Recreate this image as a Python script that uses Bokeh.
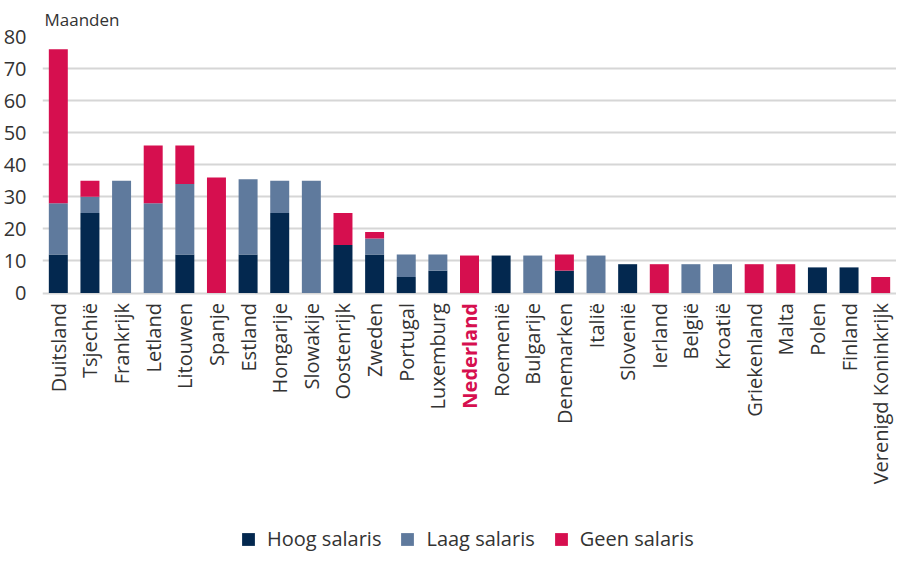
import math
from bokeh.plotting import figure
from bokeh.models import ColumnDataSource, Legend, LegendItem, FixedTicker
from bokeh.core.properties import value
from bokeh.embed import file_html
from bokeh.resources import INLINE

countries = ["Duitsland", "Tsjechië", "Frankrijk", "Letland", "Litouwen", "Spanje", "Estland",
             "Hongarije", "Slowakije", "Oostenrijk", "Zweden", "Portugal", "Luxemburg", "Nederland",
             "Roemenië", "Bulgarije", "Denemarken", "Italië", "Slovenië", "Ierland", "België",
             "Kroatië", "Griekenland", "Malta", "Polen", "Finland", "Verenigd Koninkrijk"]
hoog = [12, 25, 0, 0, 12, 0, 12, 25, 0, 15, 12, 5, 7, 0, 11.7, 0, 7, 0, 9, 0, 0, 0, 0, 0, 8, 8, 0]
laag = [16, 5, 35, 28, 22, 0, 23.5, 10, 35, 0, 5, 7, 5, 0, 0, 11.7, 0, 11.7, 0, 0, 9, 9, 0, 0, 0, 0, 0]
geen = [48, 5, 0, 18, 12, 36, 0, 0, 0, 10, 2, 0, 0, 11.7, 0, 0, 5, 0, 0, 9, 0, 0, 9, 9, 0, 0, 5]
series = ["hoog", "laag", "geen"]
series_labels = ["Hoog salaris", "Laag salaris", "Geen salaris"]
colors = ["#03284F", "#5F7A9D", "#D60F4F"]
y_ticks = [0, 10, 20, 30, 40, 50, 60, 70, 80]
highlight = "Nederland"

FONT = "Open Sans"
TEXT = "#333333"

source = ColumnDataSource(dict(country=countries, hoog=hoog, laag=laag, geen=geen))

# frame extends below zero so the category labels and legend sit inside it
p = figure(x_range=countries, y_range=(-80.9, 80), width=896, height=552,
           output_backend="svg", toolbar_location=None, x_axis_location=None,
           min_border_left=35, min_border_right=0, min_border_top=0, min_border_bottom=0)
p.x_range.range_padding = 0

renderers = p.vbar_stack(series, x="country", width=0.6, color=colors, source=source,
                         line_color=None)

p.title.text = "Maanden"
p.title.text_font = FONT
p.title.text_font_size = "17px"
p.title.text_font_style = "normal"
p.title.text_color = TEXT
p.title.offset = 2
p.title.standoff = 11

p.outline_line_color = None
p.xgrid.grid_line_color = None
p.ygrid.grid_line_color = "#D6D6D6"
p.ygrid.grid_line_width = 2
p.yaxis.ticker = FixedTicker(ticks=y_ticks)
p.yaxis.axis_line_color = None
p.yaxis.major_tick_line_color = None
p.yaxis.minor_tick_line_color = None
p.yaxis.major_label_text_font = FONT
p.yaxis.major_label_text_font_size = "20px"
p.yaxis.major_label_text_color = TEXT
p.yaxis.major_label_standoff = 10

# category labels
normal = [c for c in countries if c != highlight]
p.text(x=normal, y=[0] * len(normal), text=normal, angle=math.pi / 2,
       text_align="right", text_baseline="middle", y_offset=10,
       text_font=value(FONT), text_font_size="20px", text_color=TEXT)
p.text(x=[highlight], y=[0], text=[highlight], angle=math.pi / 2,
       text_align="right", text_baseline="middle", y_offset=10,
       text_font=value(FONT), text_font_size="20px", text_font_style="bold",
       text_color=colors[2])

legend = Legend(items=[LegendItem(label=l, renderers=[r]) for l, r in zip(series_labels, renderers)],
                orientation="horizontal", location=(198, 0),
                label_text_font=FONT, label_text_font_size="20px", label_text_color=TEXT,
                glyph_width=16, glyph_height=16, spacing=18, label_standoff=11,
                label_height=16, border_line_color=None, background_fill_alpha=0,
                padding=0, margin=0)
p.add_layout(legend, "center")

open("out.html", "w").write(file_html(p, INLINE))
